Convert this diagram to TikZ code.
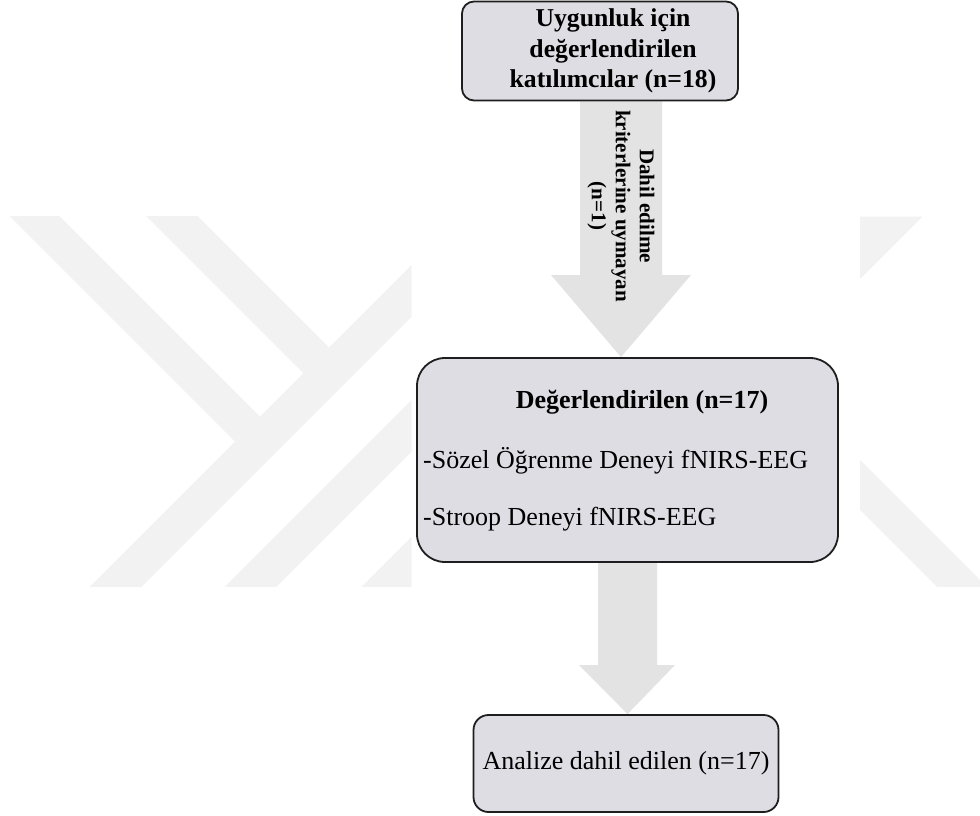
\documentclass[tikz,border=0pt]{standalone}
\usepackage{fontspec}
\setmainfont{Liberation Serif}
\usetikzlibrary{backgrounds, calc}
\setlength{\parindent}{0pt}
\definecolor{cbox}{HTML}{DDDDE3}
\definecolor{carrow}{HTML}{E3E3E3}
\definecolor{cwm}{HTML}{F2F2F2}
\definecolor{cline}{HTML}{1E1E1E}

\begin{document}
\begin{tikzpicture}[
  x=1pt, y=-1pt,
  box/.style={rectangle, draw=cline, line width=1.8pt, fill=cbox},
  flowarrow/.style={fill=carrow},
  wm/.style={fill=cwm},
  bold/.style={font=\fontsize{25.7}{30.5}\selectfont\bfseries, align=center, inner sep=0pt},
  plain/.style={font=\fontsize{26}{30}\selectfont, inner sep=0pt},
]
\useasboundingbox (0,0) rectangle (980,816);
% Boxes
\node[box, rounded corners=12pt, minimum width=276pt, minimum height=99pt] (elig) at (600,51) {};
\node[bold] (eligtxt) at (613,51) {Uygunluk için\\değerlendirilen\\katılımcılar (n=18)};
\node[box, rounded corners=28pt, minimum width=421pt, minimum height=204pt] (eval) at (627.5,460) {};
\node[plain, font=\fontsize{26}{30}\selectfont\bfseries, anchor=base] (evaltitle) at (642,408) {Değerlendirilen (n=17)};
\node[plain, anchor=base west] (item1) at (423,468) {-Sözel Öğrenme Deneyi fNIRS-EEG};
\node[plain, anchor=base west] (item2) at (423,525) {-Stroop Deneyi fNIRS-EEG};
\node[box, plain, rounded corners=15pt, minimum width=305pt, minimum height=97pt] (analiz) at (626,763.5) {Analize dahil edilen (n=17)};
% Label on the first arrow
\node[font=\fontsize{21}{24}\selectfont\bfseries, align=center, rotate=-90, inner sep=0pt] (excl) at (621,206) {Dahil edilme\\kriterlerine uymayan\\(n=1)};

\begin{scope}[on background layer]
% watermark, left part
\begin{scope}
  \clip (0,216.7) rectangle (411.7,586.7);
  \foreach \a/\b in {676.7/728.3, 811.7/863.3, 948.3/1000}
    \fill[wm] ({\a-150},150) -- ({\b-150},150) -- ({\b-650},650) -- ({\a-650},650) -- cycle;
  \foreach \c/\d in {-206.7/-156.7, -70/-18.3}
    \fill[wm] ({\c+150},150) -- ({\d+150},150) -- ({(676.7+(\d))/2},{(676.7-(\d))/2})
      -- ({(676.7+(\c))/2},{(676.7-(\c))/2}) -- cycle;
\end{scope}
% watermark, right part
\begin{scope}
  \clip (860,216.7) rectangle (980,586.7);
  \fill[wm] (860,216.7) -- (922.3,216.7) -- (860,279) -- cycle;
  \fill[wm] (750,400) -- (800,400) -- (1050,650) -- (1000,650) -- cycle;
\end{scope}
% Block arrows
\fill[flowarrow] (580,0 |- elig.south) -- (662,0 |- elig.south) -- (662,275) -- (691,275)
  -- (621,0 |- eval.north) -- (551,275) -- (580,275) -- cycle;
\fill[flowarrow] (598,0 |- eval.south) -- (657,0 |- eval.south) -- (657,665) -- (675,665)
  -- (627.5,0 |- analiz.north) -- (579,665) -- (598,665) -- cycle;
\end{scope}
\end{tikzpicture}
\end{document}
